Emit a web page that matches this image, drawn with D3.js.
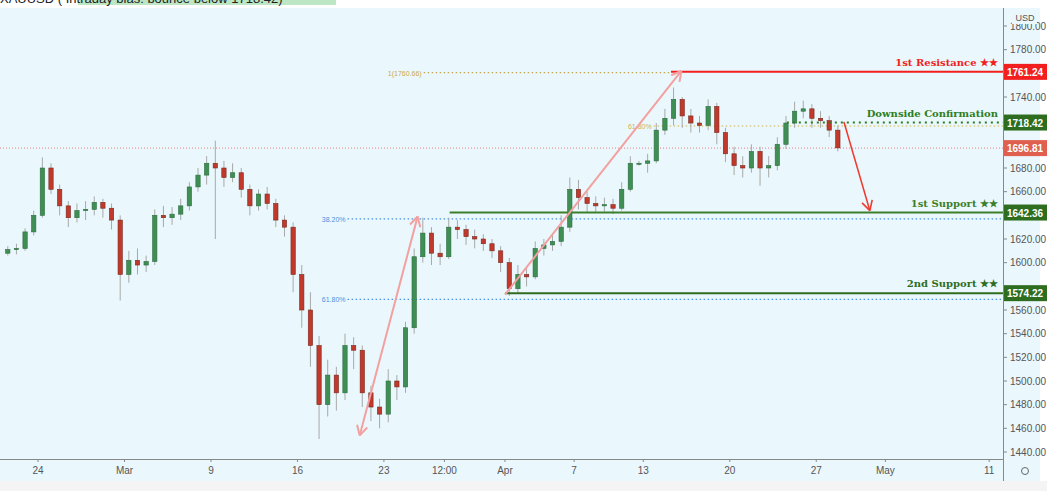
<!DOCTYPE html>
<html>
<head>
<meta charset="utf-8">
<script src="https://d3js.org/d3.v7.min.js"></script>
<style>
  body { margin: 0; background: #fff; font-family: 'Liberation Sans', Arial, sans-serif; }
  svg { display: block; }
</style>
</head>
<body>
<svg id="chart" width="1047" height="491"></svg>
<script>
// half-day bars, t = trading day index (0 = Feb 24)
const barStart = -2, barStep = 0.5;
const closes = [1611,1612,1626,1640,1680,1662,1648,1638,1644,1645,1651,1646,1636,1590,1602,1598,1601,1640,1638,1641,
  1648,1664,1674,1684,1680,1672,1676,1662,1648,1658,1650,1636,1630,1590,1560,1530,1480,1505,1490,1530,
  1526,1490,1478,1472,1500,1495,1545,1605,1625,1608,1605,1630,1628,1622,1620,1616,1610,1600,1578,1590,
  1588,1612,1615,1618,1630,1662,1655,1650,1648,1649,1646,1662,1684,1684,1686,1712,1722,1738,1724,1718,
  1716,1732,1710,1692,1682,1680,1694,1680,1682,1700,1718,1728,1730,1722,1720,1712,1697];
const highs = [1614,1616,1629,1644,1689,1684,1666,1652,1650,1652,1656,1654,1650,1640,1610,1612,1606,1645,1648,1647,
  1654,1668,1680,1690,1703,1686,1684,1680,1666,1662,1664,1654,1640,1634,1598,1575,1538,1518,1512,1540,
  1537,1530,1496,1485,1510,1505,1550,1612,1638,1630,1616,1638,1636,1632,1628,1624,1620,1614,1604,1598,
  1596,1618,1620,1624,1640,1672,1670,1660,1656,1655,1654,1668,1690,1686,1692,1718,1730,1748,1740,1730,
  1724,1738,1735,1714,1698,1690,1700,1698,1690,1706,1724,1736,1737,1734,1728,1724,1716];
const lows = [1606,1607,1610,1623,1638,1658,1640,1630,1634,1636,1640,1638,1628,1568,1583,1590,1592,1598,1630,1632,
  1636,1644,1660,1666,1620,1664,1668,1655,1640,1644,1645,1630,1622,1575,1545,1512,1451,1470,1475,1484,
  1510,1478,1466,1460,1465,1484,1490,1540,1600,1598,1598,1603,1620,1615,1612,1610,1604,1592,1572,1574,
  1580,1586,1606,1610,1614,1626,1645,1642,1642,1643,1641,1644,1660,1682,1676,1684,1708,1716,1714,1710,
  1710,1712,1700,1685,1674,1672,1676,1665,1672,1678,1696,1714,1722,1714,1714,1706,1694];
const firstOpen = 1608;

const priceTicks = [1440,1460,1480,1500,1520,1540,1560,1580,1600,1620,1640,1660,1680,1700,1720,1740,1760,1780,1800];
const dateTicks = [[0,"24"],[5,"Mar"],[10,"9"],[15,"16"],[20,"23"],[23.5,"12:00"],[27,"Apr"],[31,"7"],[35,"13"],[40,"20"],[45,"27"],[49,"May"],[55,"11"]];

const levels = [
  {name:"1st Resistance \u2605\u2605", price:1761.24, from:36.6, color:"#f21f1f", kind:"solid"},
  {name:"Downside Confirmation", price:1718.42, from:43.3, color:"#2e7d22", kind:"dots"},
  {name:"1st Support \u2605\u2605", price:1642.36, from:23.8, color:"#3b7f2a", kind:"solid"},
  {name:"2nd Support \u2605\u2605", price:1574.22, from:27.0, color:"#2e6d1f", kind:"solid"}
];
const lastPrice = 1696.81;
const fibs = [
  {label:"38.20%", price:1637.0, from:17.9, color:"#4a90e2"},
  {label:"61.80%", price:1569.0, from:17.9, color:"#4a90e2"},
  {label:"1(1760.66)", price:1760.66, from:22.3, to:36.6, color:"#c8a84a"},
  {label:"61.80%", price:1715.5, from:35.6, color:"#d4b24a"}
];
// arrows: [t, price] pairs
const pinkArrows = [
  {a:[18.6,1454], b:[21.95,1639], both:true},
  {a:[27.0,1573], b:[37.2,1762], both:false}
];
const redArrow = {a:[46.6,1719], b:[48.1,1644]};

const W = 1047, H = 491;
const plotR = 1003, plotT = 8, plotB = 459;
const svg = d3.select("#chart");
const x = d3.scaleLinear().domain([-2.2, 55.8]).range([0, plotR]);
const y = d3.scaleLinear().domain([1440, 1800]).range([452, 26]);

// backgrounds
svg.append("rect").attr("width", W).attr("height", H).attr("fill", "#ffffff");
svg.append("rect").attr("x", 0).attr("y", plotT).attr("width", 1040).attr("height", plotB - plotT).attr("fill", "#eaf8fd");
svg.append("rect").attr("x", 0).attr("y", plotB).attr("width", 1040).attr("height", 22).attr("fill", "#eaf8fd");
svg.append("rect").attr("x", 0).attr("y", 481).attr("width", W).attr("height", 10).attr("fill", "#f4f4f4");

// partly clipped title
svg.append("rect").attr("x", 78).attr("y", -8).attr("width", 258).attr("height", 13).attr("fill", "#bde6c4");
svg.append("text").attr("x", 0).attr("y", 3).attr("font-size", 13).attr("fill", "#222")
  .text("XAUUSD ( Intraday bias: bounce below 1718.42)");

const clip = svg.append("clipPath").attr("id", "plot").append("rect")
  .attr("x", 0).attr("y", plotT).attr("width", plotR).attr("height", plotB - plotT);
const g = svg.append("g").attr("clip-path", "url(#plot)");

// last price dotted line
g.append("line").attr("x1", 0).attr("x2", plotR).attr("y1", y(lastPrice)).attr("y2", y(lastPrice))
  .attr("stroke", "#e88080").attr("stroke-width", 1).attr("stroke-dasharray", "1,2");

// fib dotted lines
fibs.forEach(f => {
  const x2 = f.to != null ? x(f.to) : plotR;
  g.append("line").attr("x1", x(f.from)).attr("x2", x2).attr("y1", y(f.price)).attr("y2", y(f.price))
    .attr("stroke", f.color).attr("stroke-width", 1.2).attr("stroke-dasharray", "1.5,2.5");
  g.append("text").attr("x", x(f.from) - 2).attr("y", y(f.price) + 3).attr("text-anchor", "end")
    .attr("font-size", 7).attr("fill", f.color).text(f.label);
});

// candles
const bars = closes.map((c, i) => ({
  t: barStart + i * barStep,
  o: i === 0 ? firstOpen : closes[i - 1],
  c, h: highs[i], l: lows[i]
}));
const bw = (x(barStep) - x(0)) * 0.5;
const cg = g.append("g");
cg.selectAll("line").data(bars).enter().append("line")
  .attr("x1", d => x(d.t + barStep / 2)).attr("x2", d => x(d.t + barStep / 2))
  .attr("y1", d => y(d.h)).attr("y2", d => y(d.l))
  .attr("stroke", "#a8a8a8").attr("stroke-width", 1);
cg.selectAll("rect").data(bars).enter().append("rect")
  .attr("x", d => x(d.t + barStep / 2) - bw / 2).attr("width", bw)
  .attr("y", d => y(Math.max(d.o, d.c)))
  .attr("height", d => Math.max(1, Math.abs(y(d.o) - y(d.c))))
  .attr("fill", d => d.c >= d.o ? "#3f8f55" : "#c0392b")
  .attr("stroke", d => d.c >= d.o ? "#2c6b3d" : "#7a2a20").attr("stroke-width", 0.6);

// key levels
levels.forEach(lv => {
  const yy = y(lv.price);
  if (lv.kind === "solid") {
    g.append("line").attr("x1", x(lv.from)).attr("x2", plotR).attr("y1", yy).attr("y2", yy)
      .attr("stroke", lv.color).attr("stroke-width", 2);
  } else {
    g.append("line").attr("x1", x(lv.from)).attr("x2", plotR).attr("y1", yy).attr("y2", yy)
      .attr("stroke", lv.color).attr("stroke-width", 2).attr("stroke-dasharray", "2,4");
  }
  g.append("text").attr("x", 998).attr("y", yy - 6).attr("text-anchor", "end")
    .attr("font-family", "'DejaVu Serif', serif").attr("font-weight", "bold").attr("font-size", 10)
    .attr("fill", lv.color).text(lv.name);
});

// arrows
function arrow(a, b, color, both, width) {
  const p1 = [x(a[0]), y(a[1])], p2 = [x(b[0]), y(b[1])];
  g.append("line").attr("x1", p1[0]).attr("y1", p1[1]).attr("x2", p2[0]).attr("y2", p2[1])
    .attr("stroke", color).attr("stroke-width", width);
  const head = (from, to) => {
    const ang = Math.atan2(to[1] - from[1], to[0] - from[0]);
    const L = 11;
    [0.5, -0.5].forEach(s => {
      g.append("line").attr("x1", to[0]).attr("y1", to[1])
        .attr("x2", to[0] - L * Math.cos(ang + s)).attr("y2", to[1] - L * Math.sin(ang + s))
        .attr("stroke", color).attr("stroke-width", width);
    });
  };
  head(p1, p2);
  if (both) head(p2, p1);
}
pinkArrows.forEach(ar => arrow(ar.a, ar.b, "#f2a0a0", ar.both, 2));
arrow(redArrow.a, redArrow.b, "#f03a2e", false, 1.6);

// price tags
const tags = [
  {p:1761.24, color:"#f21f1f"},
  {p:1718.42, color:"#2e6d1f"},
  {p:lastPrice, color:"#e05f4e"},
  {p:1642.36, color:"#2e6d1f"},
  {p:1574.22, color:"#2e6d1f"}
];

// axes
svg.append("line").attr("x1", plotR + 0.5).attr("x2", plotR + 0.5).attr("y1", plotT).attr("y2", 481).attr("stroke", "#888");
svg.append("line").attr("x1", 0).attr("x2", plotR).attr("y1", plotB + 0.5).attr("y2", plotB + 0.5).attr("stroke", "#888");
const yAx = svg.append("g");
priceTicks.forEach(p => {
  yAx.append("line").attr("x1", plotR).attr("x2", plotR + 4).attr("y1", y(p)).attr("y2", y(p)).attr("stroke", "#888");
  if (tags.some(tg => Math.abs(y(tg.p) - y(p)) < 14)) return;
  yAx.append("text").attr("x", 1010).attr("y", y(p) + 3.5).attr("font-size", 10).attr("fill", "#555")
    .text(p.toFixed(2));
});
svg.append("rect").attr("x", 1012).attr("y", 10).attr("width", 25).attr("height", 14).attr("fill", "#eaf8fd");
svg.append("text").attr("x", 1025).attr("y", 21).attr("text-anchor", "middle").attr("font-size", 9).attr("fill", "#555").text("USD");

const xAx = svg.append("g");
dateTicks.forEach(([t, lab]) => {
  xAx.append("line").attr("x1", x(t)).attr("x2", x(t)).attr("y1", plotB).attr("y2", plotB + 3).attr("stroke", "#888");
  xAx.append("text").attr("x", x(t)).attr("y", 474).attr("text-anchor", "middle").attr("font-size", 10)
    .attr("fill", "#555").text(lab);
});
svg.append("circle").attr("cx", 1025).attr("cy", 471).attr("r", 3.5).attr("fill", "none").attr("stroke", "#666");

tags.forEach(tg => {
  svg.append("rect").attr("x", plotR + 1).attr("y", y(tg.p) - 8).attr("width", 44).attr("height", 16).attr("fill", tg.color);
  svg.append("text").attr("x", 1025).attr("y", y(tg.p) + 4).attr("text-anchor", "middle")
    .attr("font-size", 10).attr("font-weight", "bold").attr("fill", "#fff").text(tg.p.toFixed(2));
});
</script>
</body>
</html>
